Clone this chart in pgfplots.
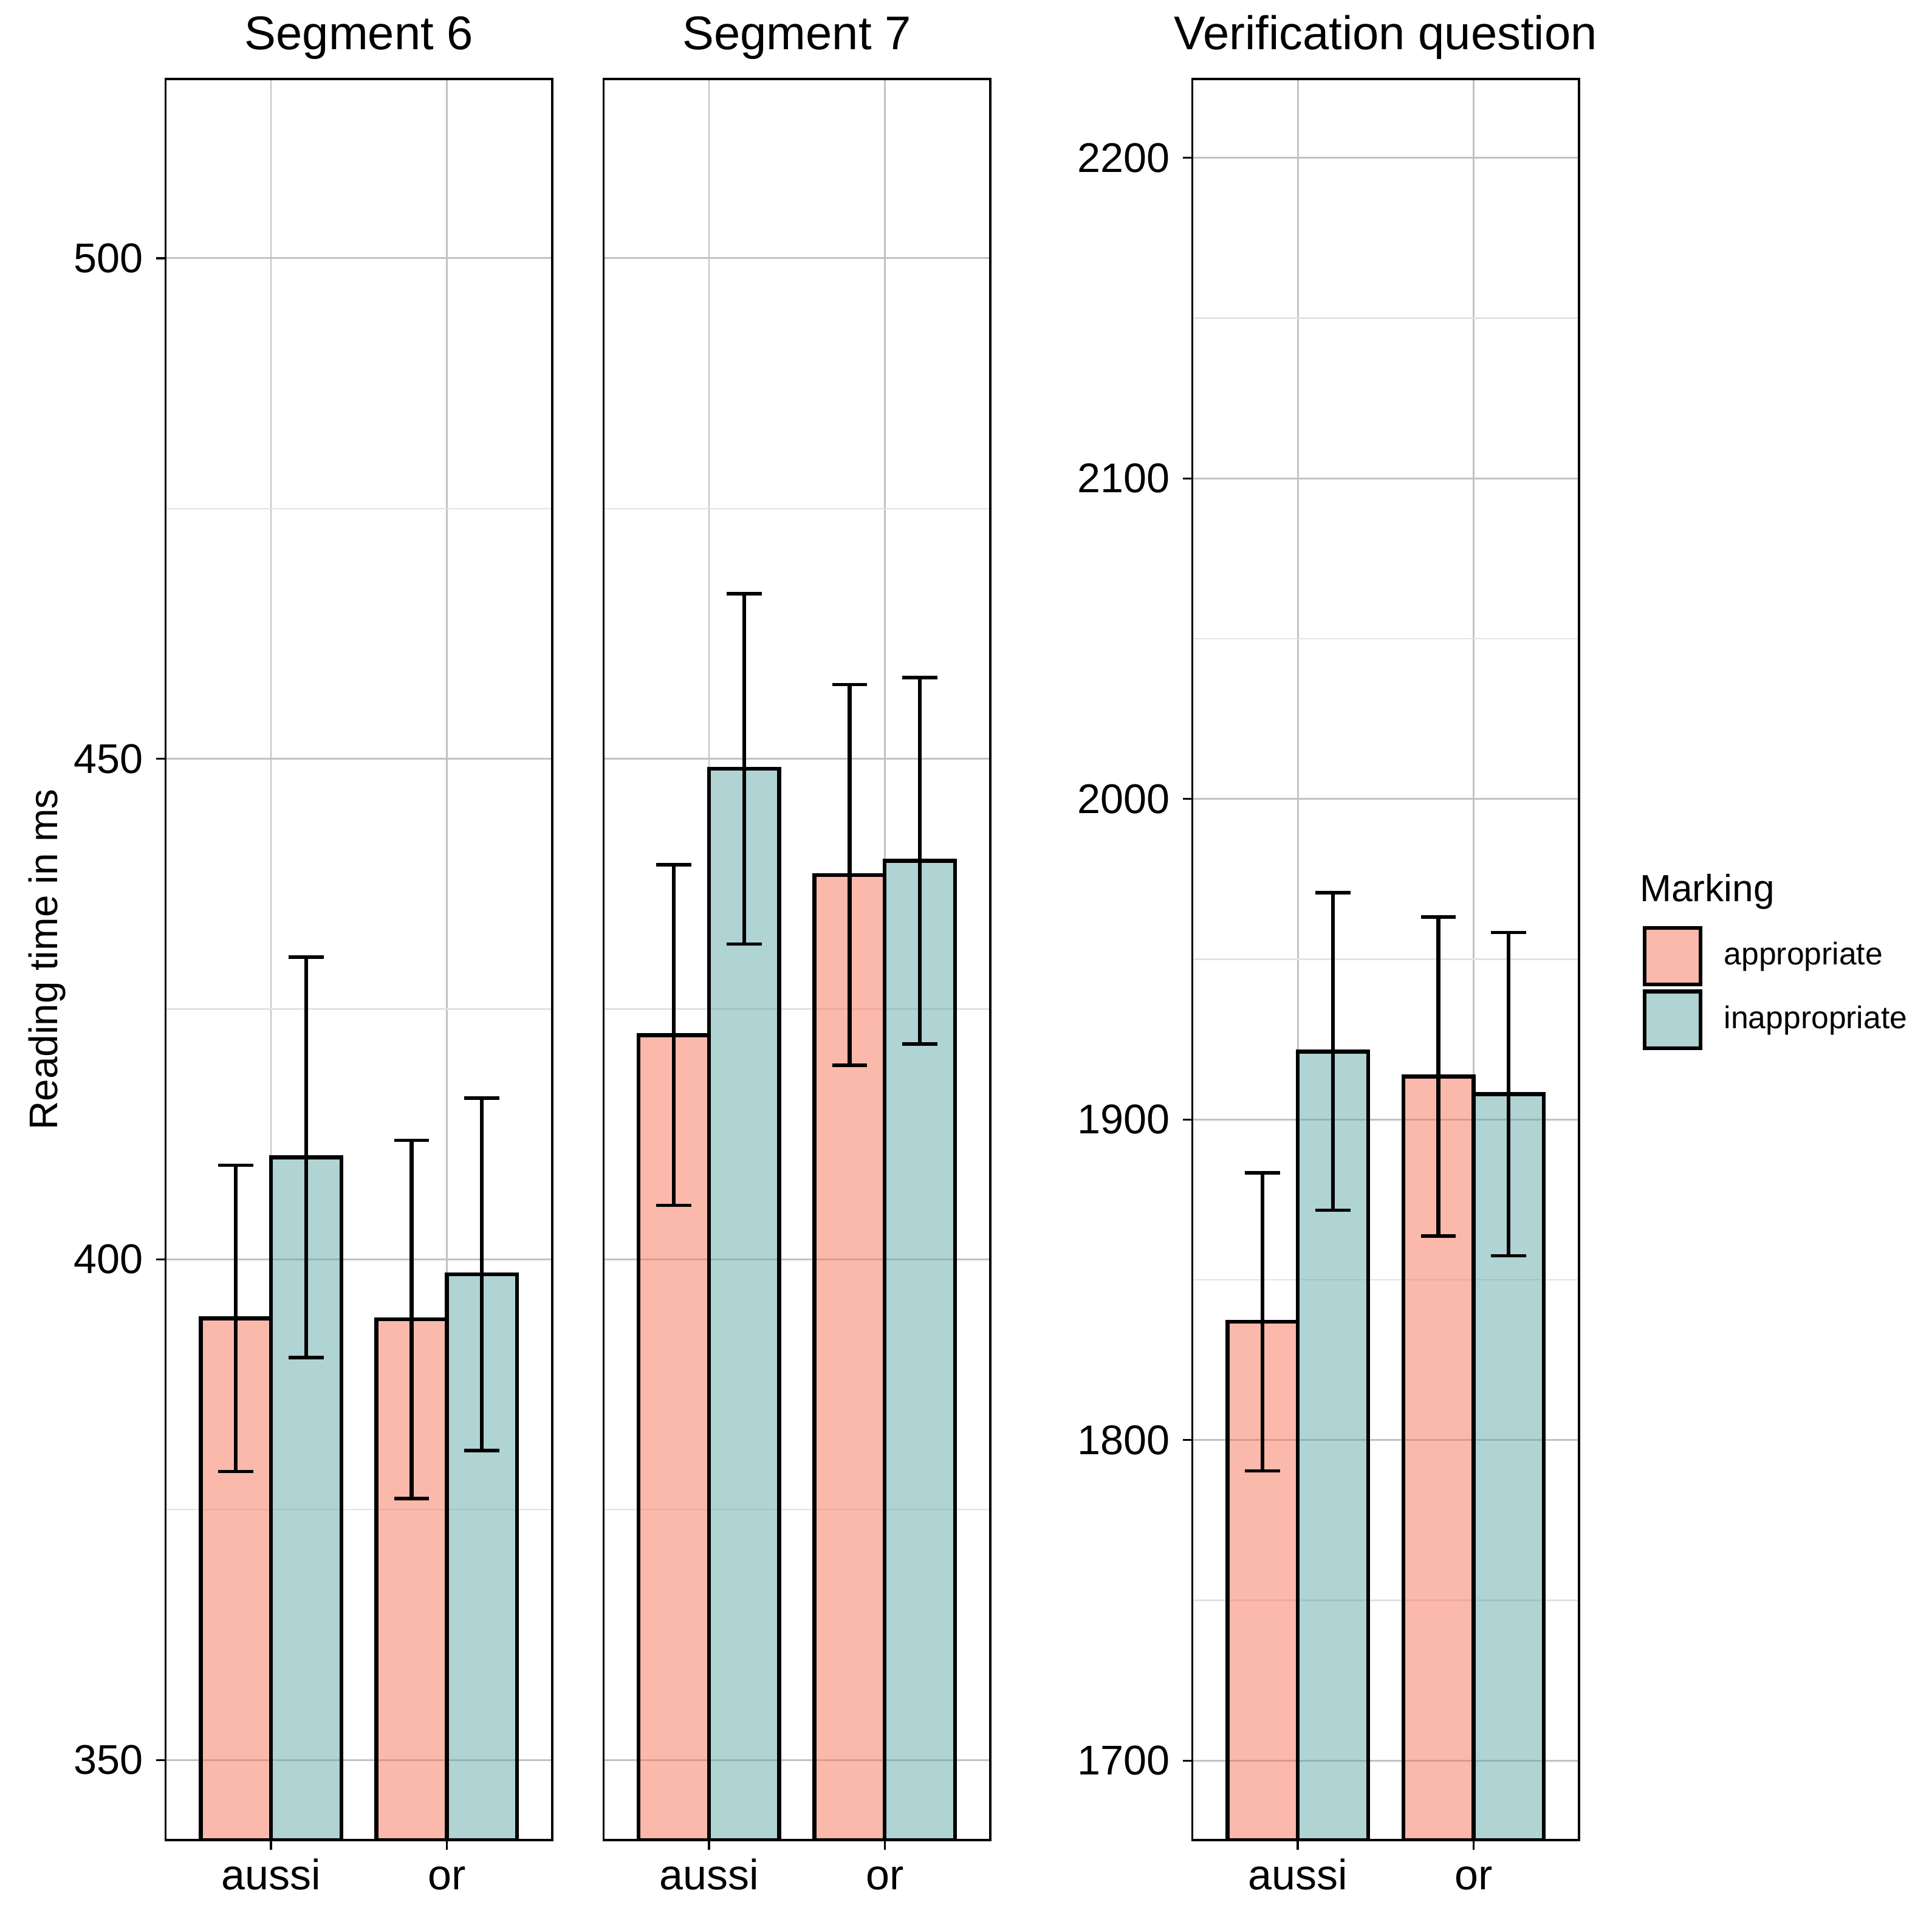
\documentclass[border=0pt]{standalone}
\usepackage{fontspec}
\setmainfont{Liberation Sans}
\usepackage{pgfplots}
\usepackage{pgfplotstable}
\pgfplotsset{compat=1.18}

\definecolor{appbase}{RGB}{247,115,89}
\definecolor{inappbase}{RGB}{97,167,167}

% x: 1 = aussi, 2 = or ; columns: mean and half-width of error bar
\pgfplotstableread{
x app appe inapp inappe
1 394.1 15.3 410.2 20.0
2 394.0 17.9 398.5 17.6
}\segsix
\pgfplotstableread{
x app appe inapp inappe
1 422.4 17.0 449.0 17.5
2 438.4 19.0 439.8 18.3
}\segseven
\pgfplotstableread{
x app appe inapp inappe
1 1836.9 46.5 1921.2 49.5
2 1913.4 49.8 1907.9 50.4
}\verif

\pgfplotsset{
  panel/.style={
    scale only axis, width=114.57pt, height=521.64pt,
    anchor=south west,
    xmin=0.4, xmax=2.6, xtick={1,2}, xticklabels={aussi,or},
    ybar=0pt, bar width=0.4,
    axis line style={line width=0.65pt, black},
    tick align=outside, major tick length=2.8pt, minor tick length=0pt,
    xtick pos=bottom, ytick pos=left,
    tick style={black, line width=0.6pt},
    xmajorgrids=true, ymajorgrids=true, yminorgrids=true, minor y tick num=1,
    major grid style={black!24, line width=0.5pt},
    minor grid style={black!11, line width=0.4pt},
    x tick label style={font=\fontsize{12.6}{13}\selectfont, anchor=base, inner sep=0pt, yshift=-11.96pt},
    y tick label style={font=\fontsize{12.3}{13}\selectfont, inner sep=0pt, xshift=-3.6pt},
    /pgf/number format/assume math mode=true, /pgf/number format/1000 sep={},
    title style={font=\fontsize{14}{16}\selectfont, anchor=base, yshift=2.7pt},
    error bars/y dir=both, error bars/y explicit,
    error bars/error mark=|,
    error bars/error bar style={line width=1.15pt, black},
    error bars/error mark options={black, line width=1pt, mark size=5.2pt},
  },
  keyimg/.style={legend image code/.code={\draw[##1, line width=1.15pt] (0pt,-8.4pt) rectangle (16.6pt,8.4pt);}},
  appbar/.style={fill=appbase, fill opacity=0.5, draw=black, line width=1.15pt, keyimg},
  inappbar/.style={fill=inappbase, fill opacity=0.5, draw=black, line width=1.15pt, keyimg},
}

\begin{document}
\begin{tikzpicture}
\path[use as bounding box] (0,0) rectangle (572.4pt,566.64pt);

\begin{axis}[panel, at={(49.05pt,21.6pt)}, title={Segment 6},
  ymin=342.0, ymax=517.9, ytick={350,400,450,500}]
\addplot[appbar] table[x=x, y=app, y error=appe] {\segsix};
\addplot[inappbar] table[x=x, y=inapp, y error=inappe] {\segsix};
\end{axis}

\begin{axis}[panel, at={(178.8pt,21.6pt)}, title={Segment 7},
  ymin=342.0, ymax=517.9, ytick={350,400,450,500}, yticklabels={},
  tick style={draw=none},
  extra x ticks={1,2}, extra x tick labels={},
  extra x tick style={grid=none, tick style={draw=black, line width=0.6pt}}]
\addplot[appbar] table[x=x, y=app, y error=appe] {\segseven};
\addplot[inappbar] table[x=x, y=inapp, y error=inappe] {\segseven};
\end{axis}

\begin{axis}[panel, at={(353.25pt,21.6pt)}, title={Verification question},
  ymin=1675.2, ymax=2224.6, ytick={1700,1800,1900,2000,2100,2200},
  legend style={at={(axis description cs:1.1625,0.5195)}, anchor=north west,
    draw=none, fill=none, inner sep=0pt, row sep=0.9pt, column sep=6.4pt,
    nodes={inner sep=0pt}, font=\fontsize{9.3}{11}\selectfont},
  legend cell align=left]
\addplot[appbar] table[x=x, y=app, y error=appe] {\verif};
\addlegendentry{appropriate}
\addplot[inappbar] table[x=x, y=inapp, y error=inappe] {\verif};
\addlegendentry{inappropriate}
\end{axis}

\node[rotate=90, anchor=base, inner sep=0pt, font=\fontsize{11.8}{12}\selectfont] at (17pt,282.42pt) {Reading time in ms};
\node[anchor=base west, inner sep=0pt, font=\fontsize{11.2}{12}\selectfont] at (485.7pt,299.6pt) {Marking};
\end{tikzpicture}
\end{document}
